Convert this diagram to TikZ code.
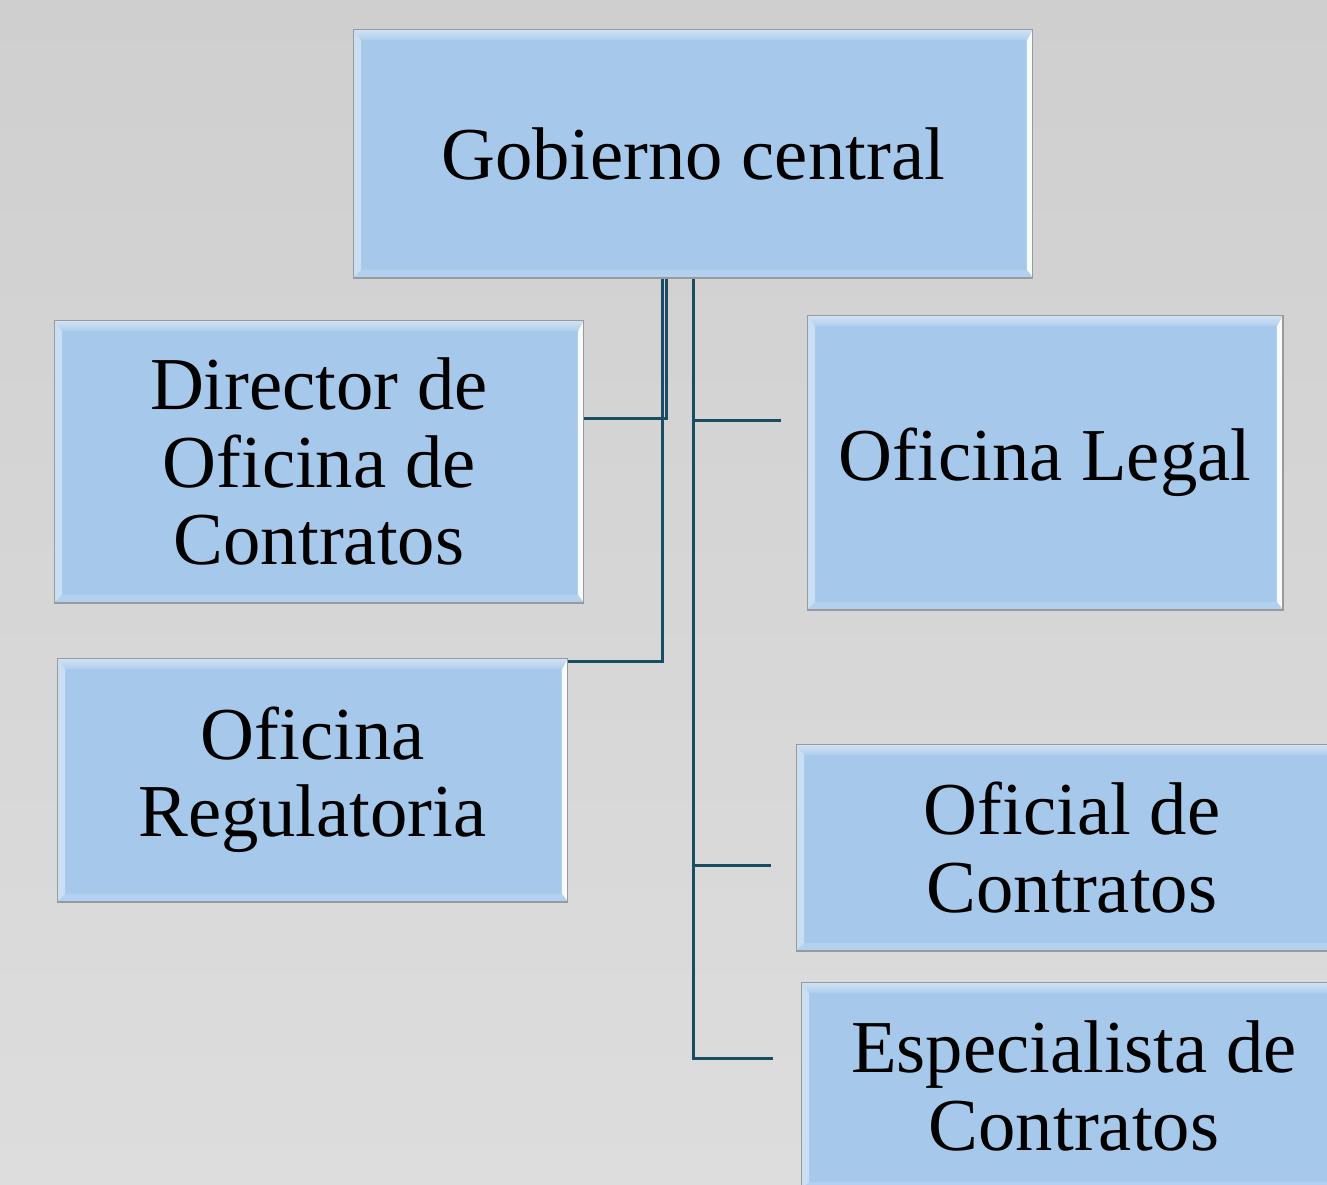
\documentclass[tikz,border=0pt]{standalone}
\usepackage{fontspec}
\setmainfont{Liberation Serif}
\usetikzlibrary{positioning}

\definecolor{boxfill}{HTML}{A6C9EB}
\definecolor{boxedge}{HTML}{9A9A9A}
\definecolor{linkcol}{HTML}{1A4D63}
\definecolor{bgtop}{HTML}{CFCFCF}
\definecolor{bgbot}{HTML}{DDDDDD}

\begin{document}
\begin{tikzpicture}[x=0.02cm, y=-0.02cm,
        link/.style={draw=linkcol, line width=1.7pt},
        box/.style={draw=boxedge, line width=0.6pt, fill=boxfill, align=center, inner sep=0pt,
            font=\fontsize{42.5}{44}\selectfont,
            path picture={
                \coordinate (nw) at (path picture bounding box.north west);
                \coordinate (ne) at (path picture bounding box.north east);
                \coordinate (sw) at (path picture bounding box.south west);
                \coordinate (se) at (path picture bounding box.south east);
                % left, right and bottom bevel
                \fill[boxfill!60!white] (nw) -- ([xshift=0.16cm, yshift=-0.22cm]nw) -- ([xshift=0.16cm, yshift=0.16cm]sw) -- (sw) -- cycle;
                \fill[boxfill!8!white] (ne) -- ([xshift=-0.12cm, yshift=-0.22cm]ne) -- ([xshift=-0.12cm, yshift=0.16cm]se) -- (se) -- cycle;
                \fill[boxfill!85!white] (sw) -- ([xshift=0.16cm, yshift=0.16cm]sw) -- ([xshift=-0.12cm, yshift=0.16cm]se) -- (se) -- cycle;
                % top bevel
                \shade[top color=boxfill!50!white, middle color=white, bottom color=boxfill!90!white]
                    (nw) -- (ne) -- ([xshift=-0.12cm, yshift=-0.22cm]ne) -- ([xshift=0.16cm, yshift=-0.22cm]nw) -- cycle;
            }}]
        \useasboundingbox (0,0) rectangle (1327,1184);
        \shade[top color=bgtop, bottom color=bgbot] (0,0) rectangle (1327,1184);
        \clip (0,0) rectangle (1327,1184);

        \node (gob) [box, minimum width=13.6cm, minimum height=4.98cm] at (693,153.5) {Gobierno central};
        \node (dir) [box, minimum width=10.6cm, minimum height=5.66cm] at (319,461.5) {Director de\\Oficina de\\Contratos};
        \node (reg) [box, minimum width=10.22cm, minimum height=4.88cm] at (312.5,780) {Oficina\\Regulatoria};
        \node (leg) [box, minimum width=9.52cm, minimum height=5.9cm] at (1045,462.5) {Oficina Legal};
        \node (ofi) [box, minimum width=11.04cm, minimum height=4.14cm] at (1072,847.5) {Oficial de\\Contratos};
        \node (esp) [box, minimum width=10.92cm, minimum height=4.16cm] at (1074,1086) {Especialista de\\Contratos};

        % free ends of the right-hand branches
        \coordinate (legin) at ([xshift=-0.52cm, yshift=0.85cm]leg.west);
        \coordinate (ofiin) at ([xshift=-0.5cm, yshift=-0.35cm]ofi.west);
        \coordinate (espin) at ([xshift=-0.56cm, yshift=0.56cm]esp.west);

        \path[link]
            ([xshift=-0.54cm]gob.south) |- ([yshift=0.87cm]dir.east)
            ([xshift=-0.62cm]gob.south) |- ([yshift=2.38cm]reg.east)
            (gob.south) |- (espin)
            (gob.south |- legin) -- (legin)
            (gob.south |- ofiin) -- (ofiin);
\end{tikzpicture}
\end{document}
